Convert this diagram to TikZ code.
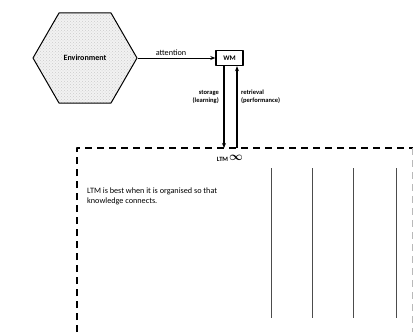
\documentclass[tikz,border=0pt]{standalone}
\usepackage{amsmath}
\usepackage{fontspec}
\setmainfont{Carlito}
\usetikzlibrary{shapes.geometric,patterns,arrows.meta}
\begin{document}
\begin{tikzpicture}[x=1pt, y=-1pt, font=\fontsize{8.2}{9.7}\selectfont, line join=round, >={Stealth[length=5pt,width=4pt]}]
			\tikzset{memory/.style={draw, line width=1.4pt, minimum width=27pt, minimum height=15pt, inner sep=1pt, font=\bfseries\fontsize{7}{8}\selectfont},
				flow/.style={->, line width=1.3pt},
				tag/.style={font=\bfseries\fontsize{6.5}{8}\selectfont, inner sep=1pt},
				ltmedge/.style={dash pattern=on 7pt off 5pt, line width=1.5pt}}
			\def\xmin{77}\def\xmax{412.5}\def\ytop{148}\def\ybot{332}
			\useasboundingbox (0,0) rectangle (414,332);
			% environment and working memory
			\node[regular polygon, regular polygon sides=6, minimum size=104pt, inner sep=0pt, draw, line width=1pt, preaction={fill=gray!10}, pattern=crosshatch dots, pattern color=gray!40] (env) at (85,58) {};
			\node[font=\bfseries\fontsize{8}{9}\selectfont] (envtext) at (env.center) {Environment};
			\node[memory] (wm) at (229.5,58) {WM};
			\draw[->, line width=.9pt] (env.east) -- (wm.west) node[pos=.43, above, inner sep=1.5pt] {attention};
			% storage and retrieval
			\coordinate (st) at (224,\ytop);
			\coordinate (rt) at (237,\ytop);
			\draw[flow] (wm.south -| st) -- (st);
			\draw[flow] (rt) -- (wm.south -| rt);
			\node[tag, align=right, anchor=east] (storage) at (220,97) {storage\\(learning)};
			\node[tag, align=left, anchor=west] (retrieval) at (240,97) {retrieval\\(performance)};
			% long term memory
			\draw[ltmedge] (\xmin,\ybot) -- (\xmin,\ytop) -- (\xmax,\ytop);
			\draw[dash pattern=on 7pt off 5pt, line width=1pt, gray!55] (\xmax,\ytop) -- (\xmax,\ybot);
			\node[tag, inner sep=0pt] (ltm) at (230,158.5) {LTM\,\raisebox{.5pt}{\fontsize{12}{12}\selectfont$\boldsymbol{\infty}$}};
			\node[anchor=north west, align=left, inner sep=0pt] (note) at (87,188) {LTM is best when it is organised so that\\knowledge connects.};
			\foreach \x in {271,312,353,396}\draw[line width=1pt, black!70] (\x,168)--(\x,318);
		\end{tikzpicture}
\end{document}
